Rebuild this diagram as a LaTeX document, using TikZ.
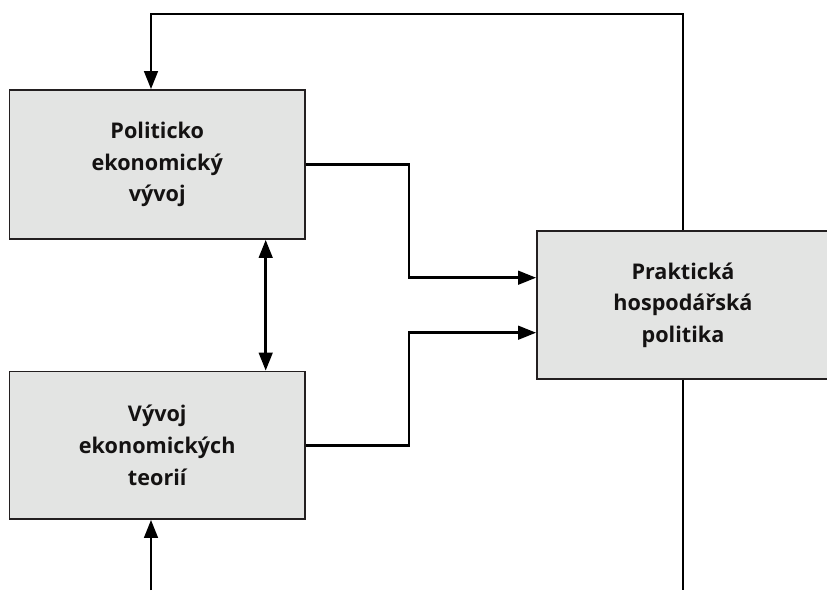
\documentclass[tikz,border=0pt]{standalone}
\usepackage{fontspec}
\setmainfont{Open Sans}
\usetikzlibrary{arrows.meta}
\definecolor{boxfill}{RGB}{227,228,227}
\definecolor{boxline}{RGB}{35,31,32}
\definecolor{ink}{RGB}{20,18,18}
\tikzset{
  box/.style={draw=boxline, line width=1.7pt, fill=boxfill, rectangle,
    inner sep=0pt, align=center, text=ink,
    font=\fontsize{21.6}{31.6}\selectfont\bfseries},
  conn/.style={line width=2.8pt, draw=black},
  tip/.tip={Triangle[length=18pt,width=13.5pt]},
  arr/.style={conn, -tip},
  darr/.style={conn, tip-tip}
}
\begin{document}
\begin{tikzpicture}[x=1pt,y=-1pt]
\useasboundingbox (0,0) rectangle (827,590);
\node[box, minimum width=295.5pt, minimum height=149pt] (b1) at (157.25,164.5)
  {Politicko\\ekonomický\\vývoj};
\node[box, minimum width=295.5pt, minimum height=147.5pt] (b2) at (157.25,445.25)
  {Vývoj\\ekonomických\\teorií};
\node[box, minimum width=292pt, minimum height=148pt] (b3) at (683,305)
  {Praktická\\hospodářská\\politika};
\coordinate (tr) at (683,14);
\coordinate (tl) at (151,14);
\coordinate (br) at (683,590);
\coordinate (bl) at (151,590);
\coordinate (dx) at (265.7,0);
\coordinate (m1) at (409,277.7);
\coordinate (m2) at (409,332.7);
\draw[arr] (b3.north) -- (tr) -- (tl) -- (tl |- b1.north);
\draw[conn] (b3.south) -- (br);
\draw[arr] (bl) -- (bl |- b2.south);
\draw[darr] (dx |- b1.south) -- (dx |- b2.north);
\draw[arr] (b1.east) -| (m1) -- (m1 -| b3.west);
\draw[arr] (b2.east) -| (m2) -- (m2 -| b3.west);
\end{tikzpicture}
\end{document}
